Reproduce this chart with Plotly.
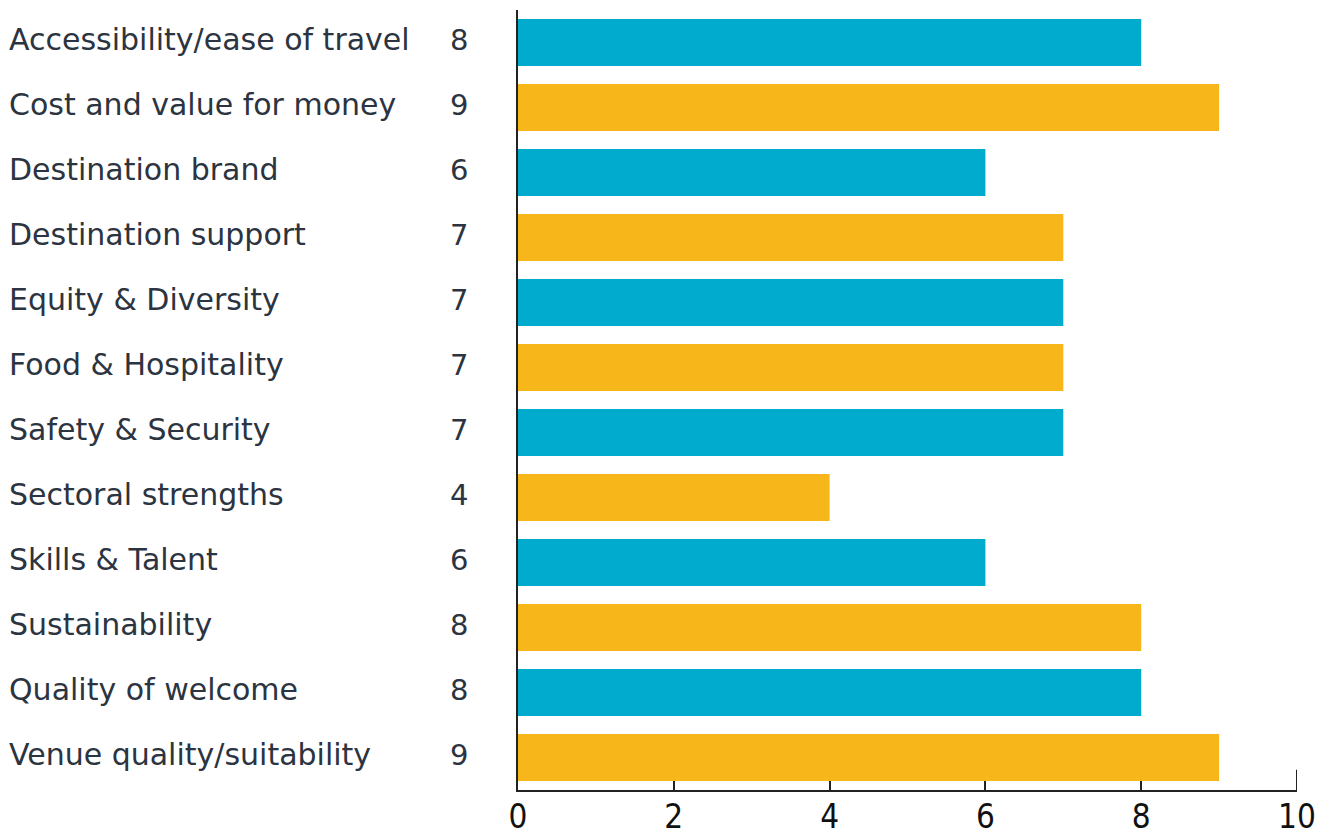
import plotly.graph_objects as go

categories = [
    "Accessibility/ease of travel",
    "Cost and value for money",
    "Destination brand",
    "Destination support",
    "Equity & Diversity",
    "Food & Hospitality",
    "Safety & Security",
    "Sectoral strengths",
    "Skills & Talent",
    "Sustainability",
    "Quality of welcome",
    "Venue quality/suitability",
]
values = [8, 9, 6, 7, 7, 7, 7, 4, 6, 8, 8, 9]
x_ticks = [0, 2, 4, 6, 8, 10]

BLUE = "#00ABCE"
YELLOW = "#F7B619"
colors = [BLUE if i % 2 == 0 else YELLOW for i in range(len(categories))]
TEXT = "#2B3440"
LABEL_FONT = "'DejaVu Sans', 'Open Sans', sans-serif"

fig = go.Figure(
    go.Bar(
        x=values,
        y=categories,
        orientation="h",
        marker=dict(color=colors, line=dict(width=0)),
        hoverinfo="x+y",
    )
)

for cat, val in zip(categories, values):
    fig.add_annotation(
        x=0, xref="paper", xshift=-511, y=cat, yref="y", yshift=3,
        text=cat, showarrow=False, xanchor="left",
        font=dict(family=LABEL_FONT, size=30, color=TEXT),
    )
    fig.add_annotation(
        x=0, xref="paper", xshift=-48, y=cat, yref="y", yshift=3,
        text=str(val), showarrow=False, xanchor="right",
        font=dict(family=LABEL_FONT, size=29, color=TEXT),
    )

# tall tick at the end of the x axis
fig.add_shape(type="line", xref="x", yref="paper", x0=10, x1=10, y0=0, y1=0.026,
              line=dict(color="#222222", width=2))

fig.update_layout(
    width=1328, height=835,
    margin=dict(l=510, r=39, t=2, b=53),
    paper_bgcolor="white", plot_bgcolor="white",
    bargap=0.275,
    showlegend=False,
    xaxis=dict(
        range=[0, 10], tickvals=x_ticks, ticktext=[str(v) for v in x_ticks],
        showgrid=False, zeroline=False, automargin=False,
        showline=True, linecolor="#222222", linewidth=2,
        ticks="inside", ticklen=9, tickwidth=2, tickcolor="#222222",
        tickfont=dict(family="'Liberation Sans Narrow', 'DejaVu Sans Condensed', sans-serif", size=33, color="#111111"),
        ticklabelstandoff=-4,
    ),
    yaxis=dict(
        autorange="reversed", automargin=False,
        categoryorder="array", categoryarray=categories,
        showticklabels=False,
        showgrid=False, zeroline=False,
        showline=True, linecolor="#222222", linewidth=2,
        ticks="",
    ),
)

fig.write_html("out.html")
